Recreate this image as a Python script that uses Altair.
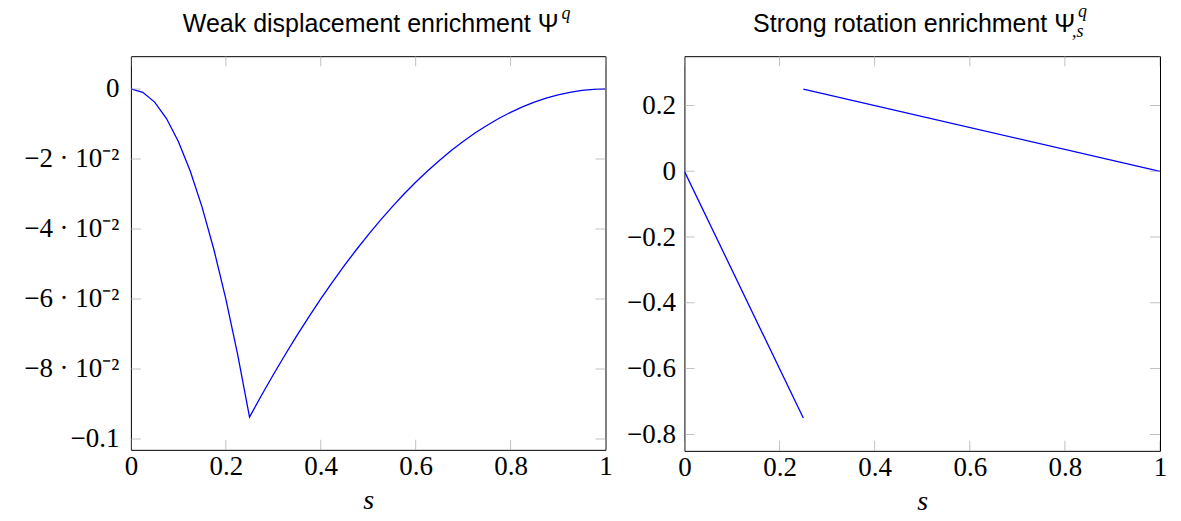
import altair as alt
import pandas as pd

# ---------------- data ----------------
s_vals = [0.0, 0.025, 0.05, 0.075, 0.1, 0.125, 0.15, 0.175, 0.2, 0.225, 0.25,
          0.275, 0.3, 0.325, 0.35, 0.375, 0.4, 0.425, 0.45, 0.475, 0.5,
          0.525, 0.55, 0.575, 0.6, 0.625, 0.65, 0.675, 0.7, 0.725, 0.75,
          0.775, 0.8, 0.825, 0.85, 0.875, 0.9, 0.925, 0.95, 0.975, 1.0]
psi_vals = [0.0, -0.00094, -0.00375, -0.00844, -0.015, -0.02344, -0.03375, -0.04594, -0.06, -0.07594, -0.09375,
            -0.08760, -0.08167, -0.07594, -0.07042, -0.06510, -0.06, -0.05510, -0.05042, -0.04594, -0.04167,
            -0.03760, -0.03375, -0.03010, -0.02667, -0.02344, -0.02042, -0.01760, -0.015, -0.01260, -0.01042,
            -0.00844, -0.00667, -0.00510, -0.00375, -0.00260, -0.00167, -0.00094, -0.00042, -0.00010, 0.0]

seg_ids = ["a", "a", "b", "b"]
seg_s = [0.0, 0.25, 0.25, 1.0]
seg_vals = [0.0, -0.75, 0.25, 0.0]

x_ticks = [0, 0.2, 0.4, 0.6, 0.8, 1]
y_ticks_left = [0, -0.02, -0.04, -0.06, -0.08, -0.1]
y_ticks_right = [0.2, 0, -0.2, -0.4, -0.6, -0.8]

titles_main = ["Weak displacement enrichment Ψ", "Strong rotation enrichment Ψ"]
title_sup = "q"
title_sub = ",s"
x_title = "s"

# ---------------- style ----------------
W, H = 475, 394
LINE = "#0000ff"
TICKC = "#a8a8a8"
SERIF = "Liberation Serif"
SANS = "Liberation Sans"
TICKLEN = 20

df_left = pd.DataFrame({"s": s_vals, "psi": psi_vals})
df_right = pd.DataFrame({"seg": seg_ids, "s": seg_s, "val": seg_vals})
df_xt = pd.DataFrame({"s": x_ticks})

x_label_expr = "datum.value == 0 ? '0' : (datum.value == 1 ? '1' : format(datum.value, '.1f'))"
left_y_expr = ("datum.value == 0 ? '0' : (datum.value < -0.09 ? '−0.1' : "
               "'−' + format(-datum.value*100, '.0f') + ' · 10⁻²')")
right_y_expr = "datum.value == 0 ? '0' : format(datum.value, '.1f')"


def x_enc():
    return alt.X("s:Q",
                 scale=alt.Scale(domain=[0, 1], nice=False, zero=False),
                 axis=alt.Axis(values=x_ticks, labelExpr=x_label_expr, title=x_title,
                               labelFlush=False,
                               titleFont=SERIF, titleFontStyle="italic", titleFontWeight="normal",
                               titleFontSize=28, titlePadding=7, labelPadding=4))


def tick_layers(yfield, yt, w, h):
    df_yt = pd.DataFrame({yfield: yt})
    mk = dict(clip=True, size=TICKLEN, thickness=1, color=TICKC)
    top = alt.Chart(df_xt).mark_tick(orient="vertical", **mk).encode(
        x=alt.X("s:Q"), y=alt.value(0))
    bot = alt.Chart(df_xt).mark_tick(orient="vertical", **mk).encode(
        x=alt.X("s:Q"), y=alt.value(h))
    lft = alt.Chart(df_yt).mark_tick(orient="horizontal", **mk).encode(
        y=alt.Y(f"{yfield}:Q"), x=alt.value(0))
    rgt = alt.Chart(df_yt).mark_tick(orient="horizontal", **mk).encode(
        y=alt.Y(f"{yfield}:Q"), x=alt.value(w))
    return [top, bot, lft, rgt]


def title_layers(main, xr, yb, sup_y, sub=None, sub_x=None, sub_y=None):
    layers = [
        alt.Chart(pd.DataFrame({"t": [main]})).mark_text(
            font=SANS, fontSize=25, align="right", baseline="alphabetic", color="black").encode(
            text="t:N", x=alt.value(xr), y=alt.value(yb)),
        alt.Chart(pd.DataFrame({"t": [title_sup]})).mark_text(
            font=SERIF, fontSize=18, fontStyle="italic", align="left", baseline="alphabetic",
            color="black").encode(
            text="t:N", x=alt.value(xr + 3), y=alt.value(sup_y)),
    ]
    if sub is not None:
        layers.append(alt.Chart(pd.DataFrame({"t": [sub]})).mark_text(
            font=SERIF, fontSize=18, fontStyle="italic", align="left", baseline="alphabetic",
            color="black").encode(
            text="t:N", x=alt.value(sub_x), y=alt.value(sub_y)))
    return layers


left_line = alt.Chart(df_left).mark_line(color=LINE, strokeWidth=1.3, clip=True).encode(
    x=x_enc(),
    y=alt.Y("psi:Q",
            scale=alt.Scale(domain=[-0.103125, 0.009375], nice=False, zero=False),
            axis=alt.Axis(values=y_ticks_left, labelExpr=left_y_expr, title=None,
                          labelPadding=12, minExtent=117, maxExtent=117)),
)

left = alt.layer(left_line, *tick_layers("psi", y_ticks_left, W, H),
                 *title_layers(titles_main[0], 428, -24, -37)).properties(width=W, height=H)

right_line = alt.Chart(df_right).mark_line(color=LINE, strokeWidth=1.3, clip=True).encode(
    x=x_enc(),
    y=alt.Y("val:Q",
            scale=alt.Scale(domain=[-0.85, 0.35], nice=False, zero=False),
            axis=alt.Axis(values=y_ticks_right, labelExpr=right_y_expr, title=None,
                          labelPadding=9, minExtent=60, maxExtent=60)),
    detail="seg:N",
)

right = alt.layer(right_line, *tick_layers("val", y_ticks_right, W + 1, H + 1),
                  *title_layers(titles_main[1], 391, -24, -39, title_sub, 388, -19)
                  ).properties(width=W + 1, height=H + 1)

chart = alt.hconcat(left, right, spacing=10).properties(
    padding={"top": -6, "left": 5, "right": 5, "bottom": 5}
).configure_view(
    stroke="black", strokeWidth=1
).configure_axis(
    domain=False, ticks=False, grid=False,
    labelFont=SERIF, labelFontSize=27, labelColor="black",
    titleColor="black",
)

chart.save("out.html", embed_options={"renderer": "svg", "actions": False})
